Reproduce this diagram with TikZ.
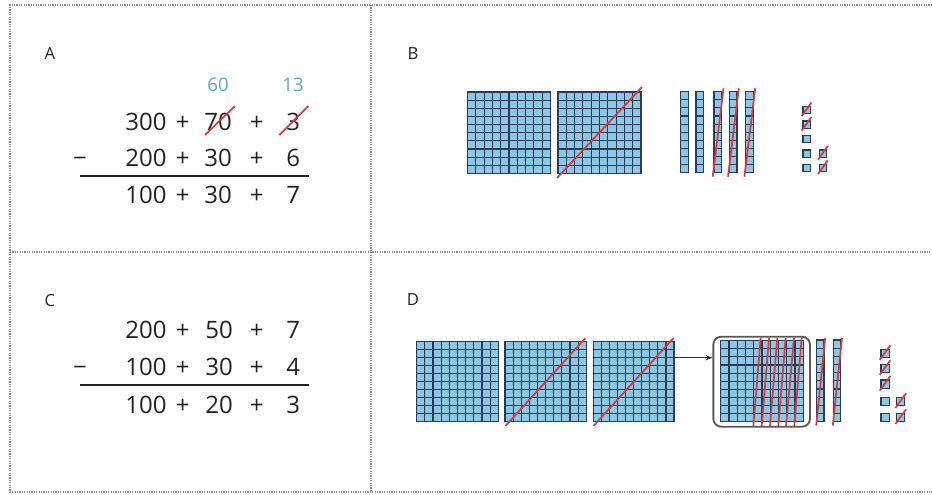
\documentclass[tikz,border=0pt]{standalone}
\usepackage{fontspec}
\setmainfont{Open Sans}
\usetikzlibrary{arrows.meta}
\definecolor{cubeblue}{HTML}{8CC8E6}
\definecolor{gridc}{HTML}{2A3D55}
\definecolor{strike}{HTML}{D63A3A}
\definecolor{carry}{HTML}{5FA4D3}
\definecolor{txt}{HTML}{222222}
\definecolor{framec}{HTML}{8A8A8A}
\tikzset{
  frameln/.style={draw=framec,line width=0.9pt,dash pattern=on 0.9pt off 0.9pt},
  gridln/.style={draw=gridc,line width=0.85pt,line cap=rect},
  cubeln/.style={fill=cubeblue,draw=gridc,line width=0.9pt},
  redln/.style={draw=strike,line width=1.3pt},
  eq/.style={font=\fontsize{18}{20}\selectfont,text=txt,inner sep=0pt,anchor=base},
  carrytxt/.style={font=\fontsize{14}{16}\selectfont,text=carry,inner sep=0pt,anchor=base},
  lbl/.style={font=\fontsize{12.5}{14}\selectfont,text=txt,inner sep=0pt,anchor=base},
  rule/.style={draw=txt,line width=1.5pt},
}
\newcommand\hsq[4]{%
  \fill[cubeblue] (#1,#2) rectangle ++(#3,#4);
  \foreach \k in {0,...,10}{%
    \draw[gridln] ({#1+\k*#3/10},#2) -- ++(0,#4);
    \draw[gridln] (#1,{#2+\k*#4/10}) -- ++(#3,0);}%
}
\newcommand\trod[4]{%
  \filldraw[cubeln] (#1,#2) rectangle ++(#3,#4);
  \foreach \k in {1,...,9}{%
    \draw[gridln] (#1,{#2+\k*#4/10}) -- ++(#3,0);}%
}
\newcommand\ucube[3]{%
  \filldraw[cubeln] (#1,#2) rectangle ++(#3,#3);%
}
\newcommand\ustrike[3]{%
  \draw[redln] ({#1-1.3},{#2+#3+2.5}) -- ({#1+#3+1.3},{#2-4});%
}
\begin{document}
\begin{tikzpicture}[x=0.75pt,y=-0.75pt]
\useasboundingbox (0,0) rectangle (932,495);
% frame
\draw[frameln] (932,5) -- (10,5) -- (10,492) -- (932,492);
\draw[frameln] (10,252) -- (932,252);
\draw[frameln] (371,5) -- (371,492);

% ---------- Panel A ----------
\node[lbl] (la) at (50,60) {A};
\node[carrytxt] (c60) at (218,91.7) {60};
\node[carrytxt] (c13) at (293,91.7) {13};
\node[eq] (a11) at (146,130.7) {300};
\node[eq] (a12) at (182.7,130.7) {+};
\node[eq] (a13) at (218,130.7) {70};
\node[eq] (a14) at (256.7,130.7) {+};
\node[eq] (a15) at (293.3,130.7) {3};
\node[eq] (aminus) at (80,166.7) {−};
\node[eq] (a21) at (146,166.7) {200};
\node[eq] (a22) at (182.7,166.7) {+};
\node[eq] (a23) at (218,166.7) {30};
\node[eq] (a24) at (256.7,166.7) {+};
\node[eq] (a25) at (293.3,166.7) {6};
\coordinate (arl) at (80,176);
\coordinate (arr) at (309,176);
\draw[rule] (arl) -- (arr);
\node[eq] (a31) at (146,203.3) {100};
\node[eq] (a32) at (182.7,203.3) {+};
\node[eq] (a33) at (218,203.3) {30};
\node[eq] (a34) at (256.7,203.3) {+};
\node[eq] (a35) at (293.3,203.3) {7};
\draw[redln] (205,135) -- (235,106);
\draw[redln] (279.3,135) -- (308.3,106);

% ---------- Panel C ----------
\node[lbl] (lc) at (50,306.7) {C};
\node[eq] (c11) at (146,338.3) {200};
\node[eq] (c12) at (182.7,338.3) {+};
\node[eq] (c13n) at (219,338.3) {50};
\node[eq] (c14) at (256.7,338.3) {+};
\node[eq] (c15) at (293.3,338.3) {7};
\node[eq] (cminus) at (80,376) {−};
\node[eq] (c21) at (146,376) {100};
\node[eq] (c22) at (182.7,376) {+};
\node[eq] (c23) at (219,376) {30};
\node[eq] (c24) at (256.7,376) {+};
\node[eq] (c25) at (293.3,376) {4};
\coordinate (crl) at (80,385);
\coordinate (crr) at (309,385);
\draw[rule] (crl) -- (crr);
\node[eq] (c31) at (146,413.3) {100};
\node[eq] (c32) at (182.7,413.3) {+};
\node[eq] (c33) at (219,413.3) {20};
\node[eq] (c34) at (256.7,413.3) {+};
\node[eq] (c35) at (293.3,413.3) {3};

% ---------- Panel B ----------
\node[lbl] (lb) at (413,60) {B};
\hsq{467.5}{92}{83}{81.5}
\hsq{558}{92}{83}{81.5}
\draw[redln] (557,178) -- (642,87);
\foreach \x in {680.7,696,714,729.3,745.7}{\trod{\x}{91.7}{7.7}{81}}
\foreach \x in {714,729.3,745.7}{\draw[redln] ({\x-1.3},176.7) -- ({\x+9.5},88.3);}
\foreach \y in {106.5,121,135.5,150,164.3}{\ucube{803}{\y}{7.2}}
\foreach \y in {150,164.3}{\ucube{819.3}{\y}{7.2}}
\foreach \y in {106.5,121}{\ustrike{803}{\y}{7.2}}
\foreach \y in {150,164.3}{\ustrike{819.3}{\y}{7.2}}

% ---------- Panel D ----------
\node[lbl] (ld) at (413,305.7) {D};
\hsq{416.7}{341.5}{81.6}{80.2}
\hsq{505}{341.5}{81.3}{80.2}
\hsq{593.3}{341.5}{80.7}{80.2}
\draw[redln] (505.5,426) -- (585.5,338);
\draw[redln] (593.5,426) -- (673.5,338);
\node[draw=gray!70!black,line width=1.4pt,rounded corners=6pt,minimum width=72.5pt,minimum height=67.5pt,inner sep=0pt] (box) at (761.65,381.7) {};
\hsq{720.7}{340.7}{82.6}{81}
\foreach \b/\t in {753.3/760.7,761.7/769,770/777.3,778.3/785.7,786/794,794.3/801.7}{\draw[redln] (\b,426) -- (\t,338);}
\coordinate (arrs) at (674,357.7);
\draw[draw=gridc!80!black,line width=0.8pt,-{Stealth[length=5pt,width=4pt]}] (arrs) -- (arrs -| box.west);
\trod{816.7}{340}{7.3}{81.7}
\trod{833.3}{340}{7.4}{81.7}
\draw[redln] (816.2,425.5) -- (825.2,338);
\draw[redln] (832.8,425.5) -- (842,338);
\foreach \y in {349.3,364.3,380,397.3,413.3}{\ucube{881}{\y}{8.1}}
\foreach \y in {397.3,413.3}{\ucube{896.7}{\y}{8.1}}
\foreach \y in {349.3,364.3,380}{\ustrike{881}{\y}{8.1}}
\foreach \y in {397.3,413.3}{\ustrike{896.7}{\y}{8.1}}
\end{tikzpicture}
\end{document}
